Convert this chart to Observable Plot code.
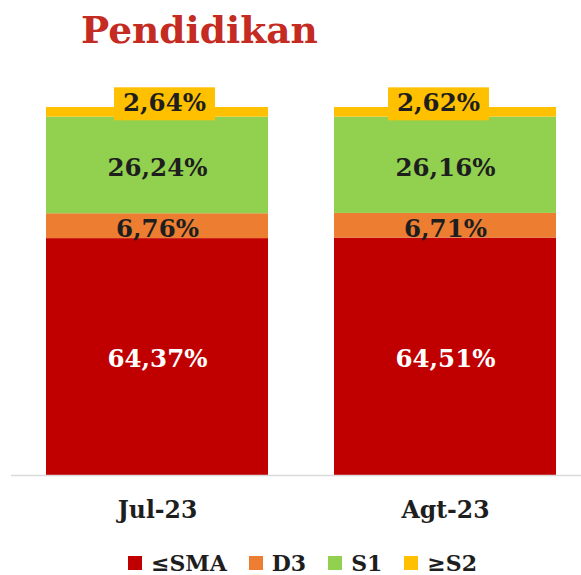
<!DOCTYPE html>
<html><head><meta charset="utf-8">
<script src="https://cdn.jsdelivr.net/npm/d3@7"></script>
<script src="https://cdn.jsdelivr.net/npm/@observablehq/plot@0.6"></script>
<style>
body{margin:0;background:#fff;width:581px;height:575px;overflow:hidden;font-family:"DejaVu Serif",serif;}
#title{height:60px;position:relative;}
#title span{position:absolute;left:81px;top:12px;font-size:37.5px;font-weight:bold;color:#c42b22;line-height:1;}
#chart{height:470px;}
#legend{height:45px;display:flex;align-items:center;padding-left:128px;padding-top:20px;box-sizing:border-box;font-weight:bold;font-size:22px;color:#1e1e1e;}
#legend .item{display:flex;align-items:center;margin-right:22px;}
#legend .sw{width:14px;height:14px;margin-right:9px;}
</style></head><body>
<div id="title"><span>Pendidikan</span></div>
<div id="chart"></div>
<div id="legend"></div>
<script>
const periods = ["Jul-23", "Agt-23"];
const categories = ["≤SMA", "D3", "S1", "≥S2"];
const colors = ["#c00000", "#ed7d31", "#92d050", "#ffc000"];
const valSMA = [64.37, 64.51];
const valD3 = [6.76, 6.71];
const valS1 = [26.24, 26.16];
const valS2 = [2.64, 2.62];

const series = [valSMA, valD3, valS1, valS2];
const rows = [];
periods.forEach((p, i) => {
  let acc = 0;
  series.forEach((s, j) => {
    const v = s[i];
    rows.push({period: p, pi: i, cat: categories[j], idx: j, value: v, y1: acc, y2: acc + v, mid: acc + v / 2});
    acc += v;
  });
});
const fmt = v => v.toFixed(2).replace(".", ",") + "%";
const labelFont = {fontSize: 24.5, fontWeight: "bold"};

const plot = Plot.plot({
  width: 581, height: 470,
  marginTop: 47, marginBottom: 55, marginLeft: 11, marginRight: 0,
  style: {fontFamily: "DejaVu Serif", background: "#fff"},
  x: {domain: periods, paddingInner: 0.23, paddingOuter: 0.104, align: 0.576, label: null},
  y: {domain: [0, 100], axis: null},
  color: {domain: categories, range: colors},
  marks: [
    Plot.barY(rows, {x: "period", y1: "y1", y2: "y2", fill: "cat"}),
    Plot.ruleY([0], {stroke: "#d9d9d9", strokeWidth: 1.5}),
    Plot.axisX({tickSize: 0, tickPadding: 26, fontSize: 23.5, fontWeight: "bold", fill: "#1e1e1e"}),
    Plot.text(rows.filter(d => d.idx === 0), {x: "period", y: "mid", text: d => fmt(d.value), fill: "#ffffff", ...labelFont, dy: 2}),
    Plot.text(rows.filter(d => d.idx === 1 || d.idx === 2), {x: "period", y: "mid", text: d => fmt(d.value), fill: "#1e1e1e", ...labelFont, dy: 3}),
    Plot.text(rows.filter(d => d.idx === 3 && d.pi === 0), {x: "period", y: "y2", text: d => fmt(d.value), fill: "#1e1e1e", ...labelFont, dy: -4, dx: 7}),
    Plot.text(rows.filter(d => d.idx === 3 && d.pi === 1), {x: "period", y: "y2", text: d => fmt(d.value), fill: "#1e1e1e", ...labelFont, dy: -4, dx: -7})
  ]
});
document.getElementById("chart").appendChild(plot);

// yellow data-label boxes behind the top labels
const textGroups = plot.querySelectorAll('g[aria-label="text"]');
[textGroups[textGroups.length - 2], textGroups[textGroups.length - 1]].forEach(g => {
  g.querySelectorAll("text").forEach(t => {
    const bb = t.getBBox();
    const r = document.createElementNS("http://www.w3.org/2000/svg", "rect");
    r.setAttribute("x", bb.x - 9);
    r.setAttribute("y", bb.y - 1);
    r.setAttribute("width", bb.width + 18);
    r.setAttribute("height", bb.height + 4);
    r.setAttribute("fill", colors[3]);
    if (t.getAttribute("transform")) r.setAttribute("transform", t.getAttribute("transform"));
    t.parentNode.insertBefore(r, t);
  });
});

const legend = document.getElementById("legend");
categories.forEach((c, i) => {
  const it = document.createElement("div");
  it.className = "item";
  const sw = document.createElement("div");
  sw.className = "sw";
  sw.style.background = colors[i];
  const lb = document.createElement("span");
  lb.textContent = c;
  it.appendChild(sw); it.appendChild(lb);
  legend.appendChild(it);
});
</script>
</body></html>
